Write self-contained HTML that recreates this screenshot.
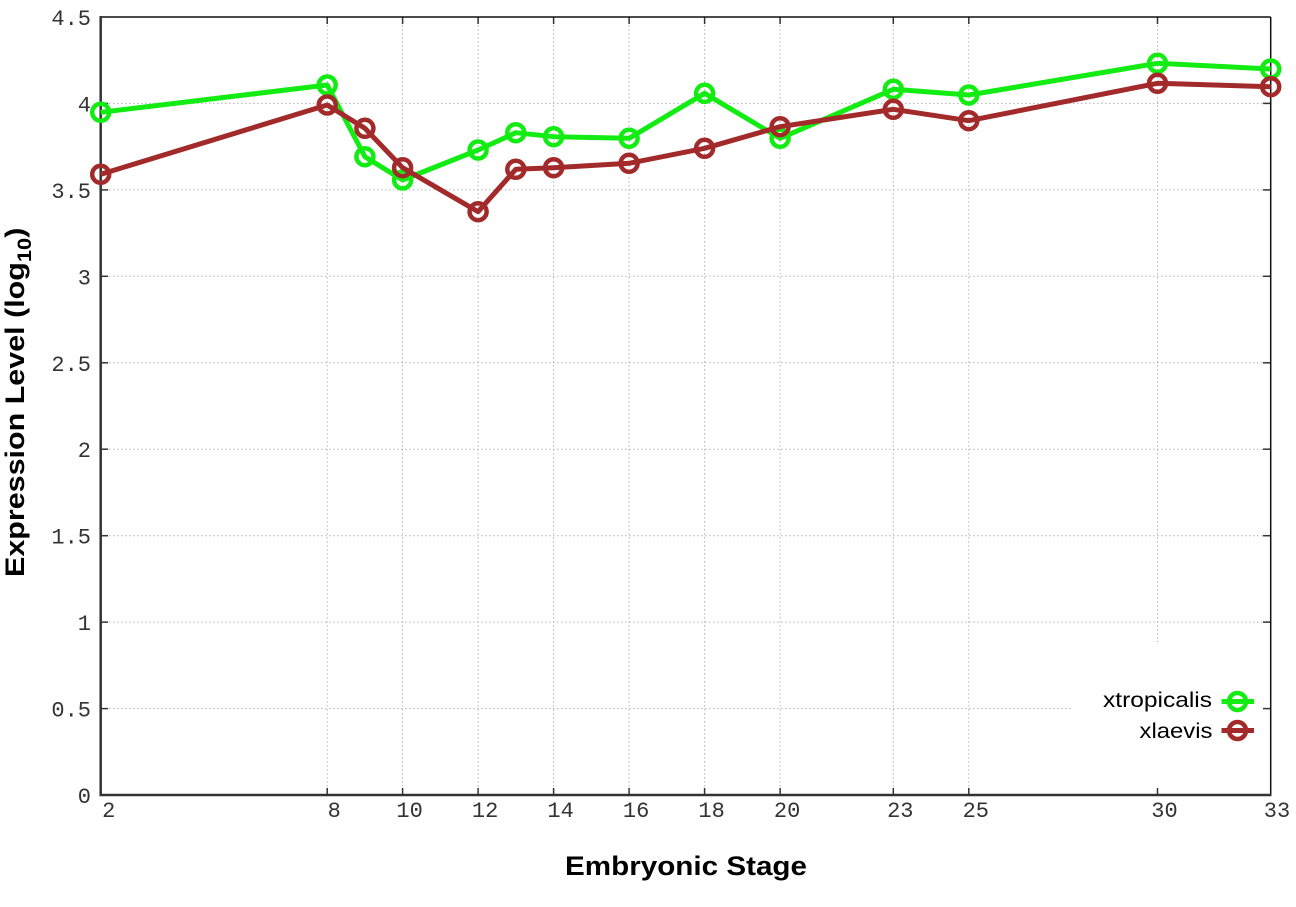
<!DOCTYPE html>
<html>
<head>
<meta charset="utf-8">
<style>
  html,body{margin:0;padding:0;background:#fff;}
  svg{display:block;}
</style>
</head>
<body>
<svg width="1296" height="907" viewBox="0 0 1296 907" xmlns="http://www.w3.org/2000/svg">
  <rect x="0" y="0" width="1296" height="907" fill="#fff"/>

  <!-- grid -->
  <g stroke="#b4b4b4" stroke-width="1" stroke-dasharray="1.5,2.5" fill="none">
    <line x1="101" y1="708.6" x2="1270" y2="708.6"/>
    <line x1="101" y1="622.1" x2="1270" y2="622.1"/>
    <line x1="101" y1="535.7" x2="1270" y2="535.7"/>
    <line x1="101" y1="449.2" x2="1270" y2="449.2"/>
    <line x1="101" y1="362.8" x2="1270" y2="362.8"/>
    <line x1="101" y1="276.3" x2="1270" y2="276.3"/>
    <line x1="101" y1="189.9" x2="1270" y2="189.9"/>
    <line x1="101" y1="103.4" x2="1270" y2="103.4"/>
    <line x1="327.2" y1="17" x2="327.2" y2="795"/>
    <line x1="402.6" y1="17" x2="402.6" y2="795"/>
    <line x1="478.1" y1="17" x2="478.1" y2="795"/>
    <line x1="553.6" y1="17" x2="553.6" y2="795"/>
    <line x1="629.1" y1="17" x2="629.1" y2="795"/>
    <line x1="704.6" y1="17" x2="704.6" y2="795"/>
    <line x1="780.1" y1="17" x2="780.1" y2="795"/>
    <line x1="893.3" y1="17" x2="893.3" y2="795"/>
    <line x1="968.8" y1="17" x2="968.8" y2="795"/>
    <line x1="1157.5" y1="17" x2="1157.5" y2="795"/>
  </g>

  <!-- legend background -->
  <rect x="1072" y="642" width="198" height="152" fill="#fff"/>

  <!-- ticks -->
  <g stroke="#333" stroke-width="1.5">
    <!-- left -->
    <line x1="101" y1="708.6" x2="108" y2="708.6"/>
    <line x1="101" y1="622.1" x2="108" y2="622.1"/>
    <line x1="101" y1="535.7" x2="108" y2="535.7"/>
    <line x1="101" y1="449.2" x2="108" y2="449.2"/>
    <line x1="101" y1="362.8" x2="108" y2="362.8"/>
    <line x1="101" y1="276.3" x2="108" y2="276.3"/>
    <line x1="101" y1="189.9" x2="108" y2="189.9"/>
    <line x1="101" y1="103.4" x2="108" y2="103.4"/>
    <!-- right -->
    <line x1="1263" y1="708.6" x2="1270.7" y2="708.6"/>
    <line x1="1263" y1="622.1" x2="1270.7" y2="622.1"/>
    <line x1="1263" y1="535.7" x2="1270.7" y2="535.7"/>
    <line x1="1263" y1="449.2" x2="1270.7" y2="449.2"/>
    <line x1="1263" y1="362.8" x2="1270.7" y2="362.8"/>
    <line x1="1263" y1="276.3" x2="1270.7" y2="276.3"/>
    <line x1="1263" y1="189.9" x2="1270.7" y2="189.9"/>
    <line x1="1263" y1="103.4" x2="1270.7" y2="103.4"/>
    <!-- bottom -->
    <line x1="327.2" y1="788" x2="327.2" y2="795"/>
    <line x1="402.6" y1="788" x2="402.6" y2="795"/>
    <line x1="478.1" y1="788" x2="478.1" y2="795"/>
    <line x1="553.6" y1="788" x2="553.6" y2="795"/>
    <line x1="629.1" y1="788" x2="629.1" y2="795"/>
    <line x1="704.6" y1="788" x2="704.6" y2="795"/>
    <line x1="780.1" y1="788" x2="780.1" y2="795"/>
    <line x1="893.3" y1="788" x2="893.3" y2="795"/>
    <line x1="968.8" y1="788" x2="968.8" y2="795"/>
    <line x1="1157.5" y1="788" x2="1157.5" y2="795"/>
    <!-- top -->
    <line x1="327.2" y1="17" x2="327.2" y2="24"/>
    <line x1="402.6" y1="17" x2="402.6" y2="24"/>
    <line x1="478.1" y1="17" x2="478.1" y2="24"/>
    <line x1="553.6" y1="17" x2="553.6" y2="24"/>
    <line x1="629.1" y1="17" x2="629.1" y2="24"/>
    <line x1="704.6" y1="17" x2="704.6" y2="24"/>
    <line x1="780.1" y1="17" x2="780.1" y2="24"/>
    <line x1="893.3" y1="17" x2="893.3" y2="24"/>
    <line x1="968.8" y1="17" x2="968.8" y2="24"/>
    <line x1="1157.5" y1="17" x2="1157.5" y2="24"/>
  </g>

  <!-- frame -->
  <line x1="100.7" y1="17" x2="1270.7" y2="17" stroke="#111" stroke-width="1.5"/>
  <line x1="1270.7" y1="17" x2="1270.7" y2="795" stroke="#111" stroke-width="1.5"/>
  <line x1="100.7" y1="16" x2="100.7" y2="796" stroke="#333" stroke-width="2.5"/>
  <line x1="99.5" y1="795" x2="1271.5" y2="795" stroke="#333" stroke-width="2.5"/>

  <!-- y tick labels -->
  <g font-family="'Liberation Mono', monospace" font-size="22" fill="#333" text-anchor="end">
    <text x="91" y="25">4.5</text>
    <text x="91" y="111.4">4</text>
    <text x="91" y="197.9">3.5</text>
    <text x="91" y="284.3">3</text>
    <text x="91" y="370.8">2.5</text>
    <text x="91" y="457.2">2</text>
    <text x="91" y="543.7">1.5</text>
    <text x="91" y="630.1">1</text>
    <text x="91" y="716.6">0.5</text>
    <text x="91" y="803">0</text>
  </g>

  <!-- x tick labels -->
  <g font-family="'Liberation Mono', monospace" font-size="22" fill="#333" text-anchor="middle">
    <text x="108.7" y="817">2</text>
    <text x="334.2" y="817">8</text>
    <text x="409.6" y="817">10</text>
    <text x="485.1" y="817">12</text>
    <text x="560.6" y="817">14</text>
    <text x="636.1" y="817">16</text>
    <text x="711.6" y="817">18</text>
    <text x="787.1" y="817">20</text>
    <text x="900.3" y="817">23</text>
    <text x="975.8" y="817">25</text>
    <text x="1164.5" y="817">30</text>
    <text x="1277" y="817">33</text>
  </g>

  <!-- axis titles -->
  <text x="565" y="875" font-family="'Liberation Sans', sans-serif" font-weight="bold" font-size="26.5" fill="#000" textLength="242" lengthAdjust="spacingAndGlyphs">Embryonic Stage</text>

  <g transform="translate(24,577) rotate(-90) scale(1.15,1)">
    <text x="0" y="0" font-family="'Liberation Sans', sans-serif" font-weight="bold" font-size="26.5" fill="#000">Expression Level (log<tspan font-size="19" dy="7">10</tspan><tspan dy="-7">)</tspan></text>
  </g>

  <!-- series: xtropicalis (green) -->
  <g fill="none" stroke="#12ec12" stroke-linejoin="round">
    <polyline stroke-width="5" points="100.7,112.3 327.2,85 364.9,156.7 402.6,180 478.1,150 515.8,132.7 553.6,136.7 629.1,138.3 704.6,93.3 780.1,138.3 893.3,89.3 968.8,95 1157.5,63.3 1270.7,69"/>
    <g stroke-width="4.5">
      <circle cx="100.7" cy="112.3" r="8.5"/>
      <circle cx="327.2" cy="85" r="8.5"/>
      <circle cx="364.9" cy="156.7" r="8.5"/>
      <circle cx="402.6" cy="180" r="8.5"/>
      <circle cx="478.1" cy="150" r="8.5"/>
      <circle cx="515.8" cy="132.7" r="8.5"/>
      <circle cx="553.6" cy="136.7" r="8.5"/>
      <circle cx="629.1" cy="138.3" r="8.5"/>
      <circle cx="704.6" cy="93.3" r="8.5"/>
      <circle cx="780.1" cy="138.3" r="8.5"/>
      <circle cx="893.3" cy="89.3" r="8.5"/>
      <circle cx="968.8" cy="95" r="8.5"/>
      <circle cx="1157.5" cy="63.3" r="8.5"/>
      <circle cx="1270.7" cy="69" r="8.5"/>
    </g>
  </g>

  <!-- series: xlaevis (brown) -->
  <g fill="none" stroke="#a32a2a" stroke-linejoin="round">
    <polyline stroke-width="5" points="100.7,174.3 327.2,105 364.9,128.3 402.6,167.7 478.1,211.7 515.8,169.3 553.6,167.7 629.1,163.3 704.6,148.3 780.1,126.7 893.3,109.3 968.8,120.7 1157.5,83.3 1270.7,86.7"/>
    <g stroke-width="4.5">
      <circle cx="100.7" cy="174.3" r="8.5"/>
      <circle cx="327.2" cy="105" r="8.5"/>
      <circle cx="364.9" cy="128.3" r="8.5"/>
      <circle cx="402.6" cy="167.7" r="8.5"/>
      <circle cx="478.1" cy="211.7" r="8.5"/>
      <circle cx="515.8" cy="169.3" r="8.5"/>
      <circle cx="553.6" cy="167.7" r="8.5"/>
      <circle cx="629.1" cy="163.3" r="8.5"/>
      <circle cx="704.6" cy="148.3" r="8.5"/>
      <circle cx="780.1" cy="126.7" r="8.5"/>
      <circle cx="893.3" cy="109.3" r="8.5"/>
      <circle cx="968.8" cy="120.7" r="8.5"/>
      <circle cx="1157.5" cy="83.3" r="8.5"/>
      <circle cx="1270.7" cy="86.7" r="8.5"/>
    </g>
  </g>

  <!-- legend -->
  <g font-family="'Liberation Sans', sans-serif" font-size="21" fill="#000">
    <text x="1103" y="707" textLength="109" lengthAdjust="spacingAndGlyphs">xtropicalis</text>
    <text x="1139.5" y="738" textLength="73" lengthAdjust="spacingAndGlyphs">xlaevis</text>
  </g>
  <g fill="none">
    <line x1="1221.5" y1="701.5" x2="1254" y2="701.5" stroke="#12ec12" stroke-width="5"/>
    <circle cx="1237.5" cy="701.5" r="8.5" stroke="#12ec12" stroke-width="4.5"/>
    <line x1="1221.5" y1="730.5" x2="1254" y2="730.5" stroke="#a32a2a" stroke-width="5"/>
    <circle cx="1237.5" cy="730.5" r="8.5" stroke="#a32a2a" stroke-width="4.5"/>
  </g>
</svg>
</body>
</html>
